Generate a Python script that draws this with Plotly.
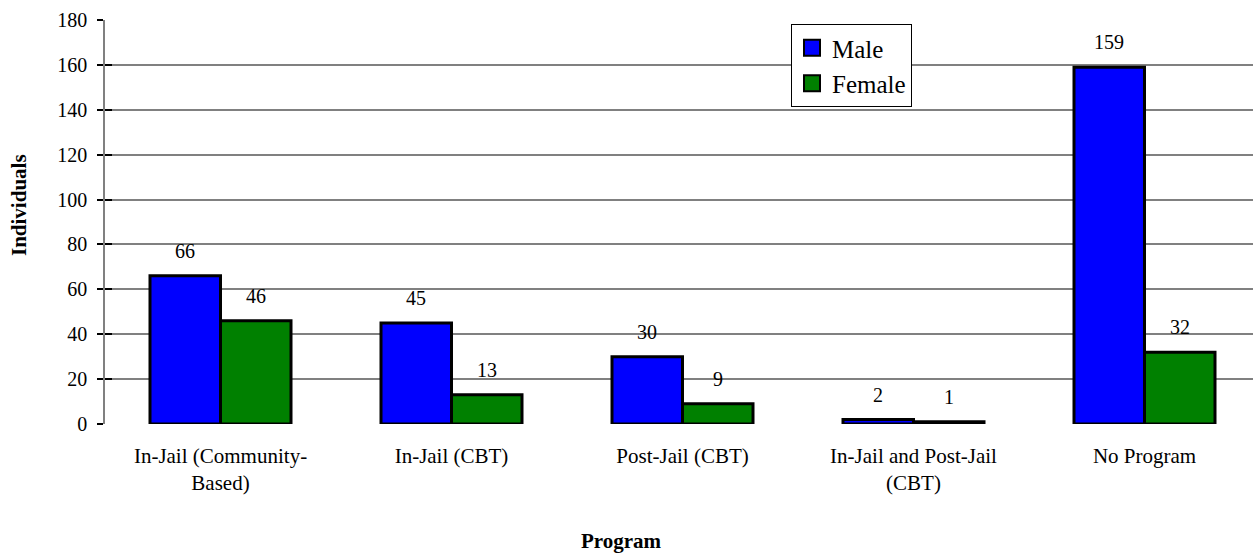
import plotly.graph_objects as go

categories = ["In-Jail (Community-<br>Based)", "In-Jail (CBT)", "Post-Jail (CBT)",
              "In-Jail and Post-Jail<br>(CBT)", "No Program"]
male = [66, 45, 30, 2, 159]
female = [46, 13, 9, 1, 32]
series_names = ["Male", "Female"]
series_colors = ["#0000FF", "#008000"]
y_ticks = [0, 20, 40, 60, 80, 100, 120, 140, 160, 180]

FONT = "Liberation Serif"
W, H = 1253, 554
ML, MT, MB = 105, 20, 130
plot_w = W - ML
cat_px = 231.0
x_units = plot_w / cat_px
bargap = 1 - 141.0 / cat_px
bar_off = 141.0 / 4

fig = go.Figure()
for name, vals, col in zip(series_names, [male, female], series_colors):
    fig.add_trace(go.Bar(
        x=categories, y=vals, name=name, showlegend=False,
        marker=dict(color=col, line=dict(color="black", width=3)),
    ))
# legend swatches
for i, (name, col) in enumerate(zip(series_names, series_colors)):
    fig.add_trace(go.Scatter(
        x=[None], y=[None], mode="markers", name=name, legendgroup=name,
        marker=dict(symbol="square", size=17, color=col, line=dict(color="black", width=2)),
    ))
# dummy for inside ticks axis
fig.add_trace(go.Scatter(x=[None], y=[None], yaxis="y2", showlegend=False, hoverinfo="skip"))

annotations = []
for vals, sh in [(male, -bar_off), (female, bar_off)]:
    for c, v in zip(categories, vals):
        annotations.append(dict(
            x=c, y=v, xref="x", yref="y", text=str(v), showarrow=False,
            xshift=sh, yshift=12, yanchor="bottom",
            font=dict(family=FONT, size=20, color="black"),
        ))
annotations.append(dict(
    x=(19 - ML) / plot_w, y=(424 - 205) / 404, xref="paper", yref="paper",
    text="<b>Individuals</b>", textangle=-90, showarrow=False,
    xanchor="center", yanchor="middle", font=dict(family=FONT, size=21, color="black"),
))
annotations.append(dict(
    x=(621 - ML) / plot_w, y=(424 - 541) / 404, xref="paper", yref="paper",
    text="<b>Program</b>", showarrow=False,
    xanchor="center", yanchor="middle", font=dict(family=FONT, size=21, color="black"),
))

fig.update_layout(
    width=W, height=H,
    margin=dict(l=ML, r=0, t=MT, b=MB),
    paper_bgcolor="white", plot_bgcolor="white",
    barmode="group", bargap=bargap, bargroupgap=0,
    font=dict(family=FONT, size=20, color="black"),
    xaxis=dict(
        type="category", range=[-0.5, -0.5 + x_units],
        showgrid=False, showline=False, ticks="",
        tickfont=dict(family=FONT, size=21, color="black"),
        ticklabelstandoff=17, fixedrange=True,
    ),
    yaxis=dict(
        range=[0, 180], tickvals=y_ticks, showgrid=True,
        gridcolor="#808080", gridwidth=1.5,
        showline=True, linecolor="#808080", linewidth=1.5,
        ticks="outside", ticklen=6, tickcolor="black", tickwidth=1.5,
        tickfont=dict(family=FONT, size=20, color="black"),
        ticklabelstandoff=6,
        zeroline=False, fixedrange=True,
    ),
    yaxis2=dict(
        range=[0, 180], tickvals=y_ticks, overlaying="y", side="left",
        showgrid=False, showline=False, showticklabels=False,
        ticks="inside", ticklen=7, tickcolor="black", tickwidth=1.5,
        zeroline=False, fixedrange=True,
    ),
    legend=dict(
        x=(791 - ML) / plot_w, y=(424 - 24) / 404, xanchor="left", yanchor="top",
        bgcolor="white", bordercolor="black", borderwidth=1,
        font=dict(family=FONT, size=25, color="black"),
        tracegroupgap=0, itemwidth=30,
    ),
    annotations=annotations,
    showlegend=True,
)

fig.write_html("out.html",
               config={"displayModeBar": False},
               post_script="document.body.style.margin='0';document.body.style.overflow='hidden';")
